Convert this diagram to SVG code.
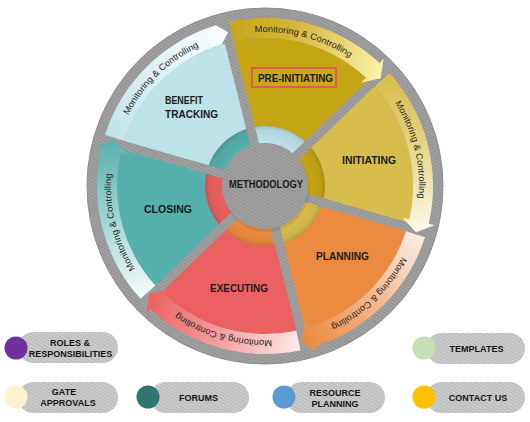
<svg xmlns="http://www.w3.org/2000/svg" width="530" height="422" viewBox="0 0 530 422">
<defs>
<style>
.lbl{font-family:"Liberation Sans",Arial,sans-serif;font-weight:bold;font-size:10.5px;fill:#1a1a1a}
.mc{font-family:"Liberation Sans",Arial,sans-serif;font-size:9px;fill:#262626}
.leg{font-family:"Liberation Sans",Arial,sans-serif;font-weight:bold;font-size:9px;fill:#151515;text-anchor:middle}
.pill{fill:url(#phatch)}
</style>
<pattern id="hatch" width="3" height="3" patternUnits="userSpaceOnUse" patternTransform="rotate(30)"><rect width="3" height="3" fill="#a3a3a3"/><rect width="3" height="1.3" fill="#919191"/></pattern>
<pattern id="phatch" width="3" height="3" patternUnits="userSpaceOnUse" patternTransform="rotate(30)"><rect width="3" height="3" fill="#cecece"/><rect width="3" height="1.3" fill="#b9b9b9"/></pattern>
<mask id="gaps" maskUnits="userSpaceOnUse" x="0" y="0" width="530" height="422">
<rect width="530" height="422" fill="#fff"/>
<g stroke="#000" stroke-width="9">
<line x1="265" y1="186" x2="222.43" y2="15.23"/>
<line x1="265" y1="186" x2="391.60" y2="63.73"/>
<line x1="265" y1="186" x2="434.19" y2="234.51"/>
<line x1="265" y1="186" x2="307.57" y2="356.77"/>
<line x1="265" y1="186" x2="138.40" y2="308.27"/>
<line x1="265" y1="186" x2="95.81" y2="137.49"/>
</g>
</mask>
<radialGradient id="ringShade" gradientUnits="userSpaceOnUse" cx="265" cy="186" r="60">
<stop offset="0.7" stop-color="#000" stop-opacity="0"/>
<stop offset="0.93" stop-color="#000" stop-opacity="0.05"/>
<stop offset="1" stop-color="#000" stop-opacity="0.15"/>
</radialGradient>
<linearGradient id="gPre" gradientUnits="userSpaceOnUse" x1="226.78" y1="32.69" x2="378.65" y2="76.24"><stop offset="0" stop-color="#c8a719"/><stop offset="0.4" stop-color="#d5b637"/><stop offset="1" stop-color="#fbf2a8"/></linearGradient>
<linearGradient id="gIni" gradientUnits="userSpaceOnUse" x1="378.65" y1="76.24" x2="416.89" y2="229.54"><stop offset="0" stop-color="#d7bd4c"/><stop offset="0.4" stop-color="#e3cf78"/><stop offset="1" stop-color="#fbf8e6"/></linearGradient>
<linearGradient id="gPla" gradientUnits="userSpaceOnUse" x1="416.89" y1="229.54" x2="303.22" y2="339.31"><stop offset="0" stop-color="#fcefe7"/><stop offset="0.5" stop-color="#f4b88e"/><stop offset="1" stop-color="#ec8b40"/></linearGradient>
<linearGradient id="gExe" gradientUnits="userSpaceOnUse" x1="303.22" y1="339.31" x2="151.35" y2="295.76"><stop offset="0" stop-color="#fdecec"/><stop offset="0.5" stop-color="#f4a0a0"/><stop offset="1" stop-color="#eb6262"/></linearGradient>
<linearGradient id="gClo" gradientUnits="userSpaceOnUse" x1="151.35" y1="295.76" x2="113.11" y2="142.46"><stop offset="0" stop-color="#f6fcfc"/><stop offset="0.5" stop-color="#a6d8d6"/><stop offset="1" stop-color="#5ab2af"/></linearGradient>
<linearGradient id="gBen" gradientUnits="userSpaceOnUse" x1="113.11" y1="142.46" x2="226.78" y2="32.69"><stop offset="0" stop-color="#c0e3ea"/><stop offset="1" stop-color="#fbfdfe"/></linearGradient>
<path id="tpPre" d="M227.75,36.57 A154,154 0 0 1 375.77,79.02"/>
<path id="tpIni" d="M375.77,79.02 A154,154 0 0 1 413.04,228.44"/>
<path id="tpPla" d="M413.04,228.44 A154,154 0 0 1 302.25,335.43"/>
<path id="tpExe" d="M302.25,335.43 A154,154 0 0 1 154.23,292.98"/>
<path id="tpClo" d="M154.23,292.98 A154,154 0 0 1 116.96,143.56"/>
<path id="tpBen" d="M116.96,143.56 A154,154 0 0 1 227.75,36.57"/>
</defs>

<g id="wheel">
<circle cx="265" cy="186" r="178" fill="url(#hatch)" stroke="#8c8c8c" stroke-width="1"/>
<g id="inner-ring" mask="url(#gaps)">
<path d="M265,186 L250.49,127.78 A60,60 0 0 1 308.16,144.32 Z" fill="#bde2e9"/>
<path d="M265,186 L308.16,144.32 A60,60 0 0 1 322.68,202.54 Z" fill="#c6a514"/>
<path d="M265,186 L322.68,202.54 A60,60 0 0 1 279.51,244.22 Z" fill="#d7bd4c"/>
<path d="M265,186 L279.51,244.22 A60,60 0 0 1 221.84,227.68 Z" fill="#ec8b40"/>
<path d="M265,186 L221.84,227.68 A60,60 0 0 1 207.32,169.46 Z" fill="#eb6060"/>
<path d="M265,186 L207.32,169.46 A60,60 0 0 1 250.49,127.78 Z" fill="#55b0ad"/>
<circle cx="265" cy="186" r="60" fill="url(#ringShade)"/>
</g>
</g>

<g id="spokes"></g>

<g id="pre-initiating">
<path mask="url(#gaps)" d="M250.49,127.78 L229.20,42.40 A148,148 0 0 1 371.46,83.18 L308.16,144.32 A60,60 0 0 0 250.49,127.78 Z" fill="#c6a514"/>
<path d="M233.73,41.34 L229.50,21.80 A168,168 0 0 1 379.58,63.12 L383.67,58.74 L380.56,78.24 L361.16,82.87 L365.94,77.75 A148,148 0 0 0 233.73,41.34 Z" fill="url(#gPre)"/>
<text class="mc"><textPath href="#tpPre" startOffset="48%" text-anchor="middle" textLength="100" lengthAdjust="spacingAndGlyphs">Monitoring &amp; Controlling</textPath></text>
<rect x="252" y="68" width="84" height="19" fill="#c9a71a" stroke="#d8604c" stroke-width="2"/>
<text class="lbl" x="258" y="81.5" textLength="75" lengthAdjust="spacingAndGlyphs">PRE-INITIATING</text>
</g>

<g id="initiating">
<path mask="url(#gaps)" d="M308.16,144.32 L371.46,83.18 A148,148 0 0 1 407.27,226.79 L322.68,202.54 A60,60 0 0 0 308.16,144.32 Z" fill="#d7bd4c"/>
<path d="M374.64,86.59 L389.45,73.15 A168,168 0 0 1 428.70,223.80 L434.55,225.15 L416.10,232.20 L402.39,217.73 L409.21,219.30 A148,148 0 0 0 374.64,86.59 Z" fill="url(#gIni)"/>
<text class="mc"><textPath href="#tpIni" startOffset="50%" text-anchor="middle" textLength="100" lengthAdjust="spacingAndGlyphs">Monitoring &amp; Controlling</textPath></text>
<text class="lbl" x="342" y="164" textLength="54" lengthAdjust="spacingAndGlyphs">INITIATING</text>
</g>

<g id="planning">
<path mask="url(#gaps)" d="M322.68,202.54 L407.27,226.79 A148,148 0 0 1 300.80,329.60 L279.51,244.22 A60,60 0 0 0 322.68,202.54 Z" fill="#ec8b40"/>
<path d="M405.91,231.24 L424.95,237.36 A168,168 0 0 1 314.12,346.66 L315.88,352.40 L300.55,339.96 L306.23,320.84 L308.28,327.53 A148,148 0 0 0 405.91,231.24 Z" fill="url(#gPla)"/>
<text class="mc"><textPath href="#tpPla" startOffset="50%" text-anchor="middle" textLength="100" lengthAdjust="spacingAndGlyphs">Monitoring &amp; Controlling</textPath></text>
<text class="lbl" x="316" y="259.5" textLength="53" lengthAdjust="spacingAndGlyphs">PLANNING</text>
</g>

<g id="executing">
<path mask="url(#gaps)" d="M279.51,244.22 L300.80,329.60 A148,148 0 0 1 158.54,288.82 L221.84,227.68 A60,60 0 0 0 279.51,244.22 Z" fill="#eb6060"/>
<path d="M296.27,330.66 L300.50,350.20 A168,168 0 0 1 150.42,308.88 L146.33,313.26 L149.44,293.76 L168.84,289.13 L164.06,294.25 A148,148 0 0 0 296.27,330.66 Z" fill="url(#gExe)"/>
<text class="mc"><textPath href="#tpExe" startOffset="50%" text-anchor="middle" textLength="100" lengthAdjust="spacingAndGlyphs">Monitoring &amp; Controlling</textPath></text>
<text class="lbl" x="210" y="292" textLength="58" lengthAdjust="spacingAndGlyphs">EXECUTING</text>
</g>

<g id="closing">
<path mask="url(#gaps)" d="M221.84,227.68 L158.54,288.82 A148,148 0 0 1 122.73,145.21 L207.32,169.46 A60,60 0 0 0 221.84,227.68 Z" fill="#55b0ad"/>
<path d="M155.36,285.41 L140.55,298.85 A168,168 0 0 1 101.30,148.20 L95.45,146.85 L113.90,139.80 L127.61,154.27 L120.79,152.70 A148,148 0 0 0 155.36,285.41 Z" fill="url(#gClo)"/>
<text class="mc"><textPath href="#tpClo" startOffset="50%" text-anchor="middle" textLength="100" lengthAdjust="spacingAndGlyphs">Monitoring &amp; Controlling</textPath></text>
<text class="lbl" x="144" y="213.3" textLength="48" lengthAdjust="spacingAndGlyphs">CLOSING</text>
</g>

<g id="benefit-tracking">
<path mask="url(#gaps)" d="M207.32,169.46 L122.73,145.21 A148,148 0 0 1 229.20,42.40 L250.49,127.78 A60,60 0 0 0 207.32,169.46 Z" fill="#bde2e9"/>
<path d="M124.09,140.76 L105.05,134.64 A168,168 0 0 1 215.88,25.34 L228.12,32.36 L221.72,44.47 A148,148 0 0 0 124.09,140.76 Z" fill="url(#gBen)"/>
<text class="mc"><textPath href="#tpBen" startOffset="50%" text-anchor="middle" textLength="100" lengthAdjust="spacingAndGlyphs">Monitoring &amp; Controlling</textPath></text>
<text class="lbl" x="165" y="104.3" textLength="38" lengthAdjust="spacingAndGlyphs">BENEFIT</text>
<text class="lbl" x="165" y="118" textLength="53" lengthAdjust="spacingAndGlyphs">TRACKING</text>
</g>

<g id="methodology">
<circle cx="266" cy="188" r="44" fill="#000" fill-opacity="0.08"/>
<circle cx="265" cy="186" r="43" fill="url(#hatch)"/>
<text class="lbl" x="229" y="188" textLength="74" lengthAdjust="spacingAndGlyphs">METHODOLOGY</text>
</g>

<g id="roles-responsibilities">
<rect class="pill" x="18" y="332" width="100" height="31" rx="15.5"/>
<circle cx="16" cy="348" r="11.5" fill="#7030a0"/>
<text class="leg" x="70" y="346">ROLES &amp;</text>
<text class="leg" x="70.5" y="356.5">RESPONSIBILITIES</text>
</g>
<g id="gate-approvals">
<rect class="pill" x="18" y="382" width="100" height="31" rx="15.5"/>
<circle cx="16" cy="397" r="11.5" fill="#fff2cc"/>
<text class="leg" x="64" y="395">GATE</text>
<text class="leg" x="68" y="405.5">APPROVALS</text>
</g>
<g id="forums">
<rect class="pill" x="150" y="382" width="99" height="31" rx="15.5"/>
<circle cx="148" cy="397" r="11.5" fill="#327571"/>
<text class="leg" x="198.5" y="400.5">FORUMS</text>
</g>
<g id="resource-planning">
<rect class="pill" x="286" y="382" width="99" height="31" rx="15.5"/>
<circle cx="284" cy="397" r="11.5" fill="#5b9bd5"/>
<text class="leg" x="335" y="396">RESOURCE</text>
<text class="leg" x="335" y="406.5">PLANNING</text>
</g>
<g id="templates">
<rect class="pill" x="426" y="333" width="99" height="31" rx="15.5"/>
<circle cx="424" cy="348" r="11.5" fill="#c5e0b4"/>
<text class="leg" x="476.5" y="351.5">TEMPLATES</text>
</g>
<g id="contact-us">
<rect class="pill" x="426" y="382" width="99" height="31" rx="15.5"/>
<circle cx="424" cy="397" r="11.5" fill="#ffc000"/>
<text class="leg" x="478" y="400.5">CONTACT US</text>
</g>
</svg>
